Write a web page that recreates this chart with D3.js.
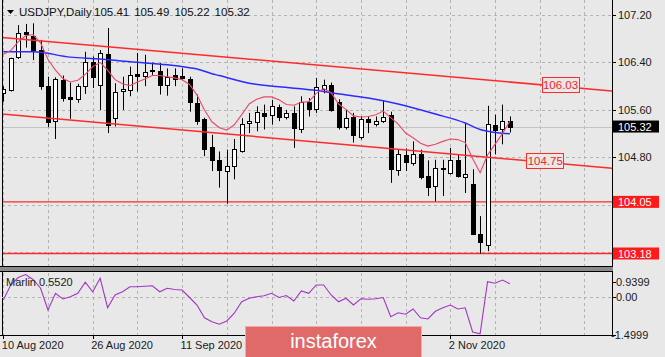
<!DOCTYPE html>
<html><head><meta charset="utf-8">
<script src="https://cdn.jsdelivr.net/npm/d3@7"></script>
<style>
html,body{margin:0;padding:0;background:#e8e8e8;overflow:hidden;}
svg{display:block;font-family:"Liberation Sans",Arial,sans-serif;}
</style></head><body>
<svg id="c" width="665" height="357"></svg>
<script>
// ---------- DATA ----------
const dates = [
 "2020-08-10","2020-08-11","2020-08-12","2020-08-13","2020-08-14","2020-08-17","2020-08-18","2020-08-19","2020-08-20","2020-08-21",
 "2020-08-24","2020-08-25","2020-08-26","2020-08-27","2020-08-28","2020-08-31","2020-09-01","2020-09-02","2020-09-03","2020-09-04",
 "2020-09-07","2020-09-08","2020-09-09","2020-09-10","2020-09-11","2020-09-14","2020-09-15","2020-09-16","2020-09-17","2020-09-18",
 "2020-09-21","2020-09-22","2020-09-23","2020-09-24","2020-09-25","2020-09-28","2020-09-29","2020-09-30","2020-10-01","2020-10-02",
 "2020-10-05","2020-10-06","2020-10-07","2020-10-08","2020-10-09","2020-10-12","2020-10-13","2020-10-14","2020-10-15","2020-10-16",
 "2020-10-19","2020-10-20","2020-10-21","2020-10-22","2020-10-23","2020-10-26","2020-10-27","2020-10-28","2020-10-29","2020-10-30",
 "2020-11-02","2020-11-03","2020-11-04","2020-11-05","2020-11-06","2020-11-09","2020-11-10","2020-11-11","2020-11-12"];
const open  = [105.88,105.94,106.49,106.92,106.85,106.61,106.01,105.42,106.11,105.81,
 105.79,106.01,106.40,106.02,106.54,105.46,105.92,105.94,106.21,106.17,
 106.25,106.26,106.02,106.19,106.17,106.12,105.72,105.45,104.97,104.75,
 104.57,104.66,104.90,105.38,105.39,105.55,105.51,105.65,105.48,105.55,
 105.28,105.73,105.62,105.96,106.02,105.73,105.32,105.48,105.15,105.45,
 105.37,105.42,105.51,104.58,104.84,104.71,104.86,104.48,104.31,104.62,
 104.54,104.75,104.47,104.35,103.51,103.33,105.35,105.28,105.41];
const high  = [106.00,106.48,107.03,107.05,107.06,106.78,106.16,106.15,106.18,106.06,
 106.04,106.58,106.50,106.61,106.98,106.05,106.16,106.33,106.56,106.53,
 106.40,106.39,106.30,106.30,106.30,106.16,105.86,105.47,105.18,104.90,
 104.93,105.11,105.46,105.55,105.66,105.69,105.77,105.69,105.60,105.66,
 105.83,105.80,106.14,106.11,106.06,105.78,105.60,105.55,105.49,105.49,
 105.49,105.76,105.57,104.94,104.95,105.07,104.93,104.75,104.76,104.76,
 104.96,104.85,105.37,104.60,103.81,105.67,105.52,105.69,105.49];
const low   = [105.74,105.91,106.46,106.65,106.44,105.94,105.31,105.11,105.74,105.45,
 105.72,105.87,105.97,105.60,105.21,105.32,105.60,105.83,105.91,106.00,
 106.19,105.86,105.84,106.00,106.11,105.57,105.35,104.82,104.57,104.29,
 104.02,104.43,104.88,105.21,105.24,105.27,105.35,105.41,105.44,104.96,
 105.21,105.49,105.55,105.88,105.57,105.27,105.27,105.05,105.10,105.21,
 105.32,105.38,104.37,104.49,104.57,104.66,104.43,104.15,104.06,104.15,
 104.51,104.46,104.20,103.49,103.18,103.22,104.85,105.02,105.22];
const close = [105.95,106.47,106.90,106.88,106.61,106.01,105.40,106.12,105.80,105.79,
 106.00,106.40,106.16,106.56,105.35,105.91,105.95,106.19,106.17,106.24,
 106.28,106.02,106.16,106.12,106.14,105.73,105.42,104.94,104.75,104.58,
 104.65,104.94,105.37,105.42,105.57,105.49,105.67,105.48,105.54,105.30,
 105.74,105.62,105.98,106.02,105.60,105.31,105.47,105.17,105.44,105.39,
 105.42,105.48,104.60,104.85,104.72,104.86,104.47,104.30,104.62,104.60,
 104.75,104.49,104.52,103.51,103.38,105.37,105.26,105.42,105.32];
// fast moving average (pink), one value per bar
const maFast = [106.54,106.60,106.75,106.85,106.87,106.73,106.45,106.27,106.13,106.07,
 106.10,106.20,106.33,106.40,106.27,106.11,106.04,106.01,106.07,106.12,
 106.18,106.18,106.16,106.14,106.11,106.03,105.85,105.60,105.40,105.30,
 105.26,105.35,105.52,105.70,105.78,105.82,105.82,105.77,105.69,105.68,
 105.73,105.74,105.88,105.96,105.89,105.70,105.61,105.50,105.48,105.49,
 105.52,105.58,105.47,105.36,105.21,105.13,105.04,104.99,105.02,105.07,
 105.11,105.10,105.05,104.78,104.54,104.84,105.02,105.20,105.41];
// slow moving average (blue), read at these bars
const maSlowBars = [0,4,9,13,17,22,25,26,28,29,33,37,42,44,49,53,58,62,64,66,68];
const maSlowVals = [106.58,106.58,106.49,106.46,106.41,106.36,106.31,106.29,106.21,106.18,106.05,105.99,105.93,105.89,105.80,105.70,105.53,105.38,105.27,105.22,105.20];
// Marlin oscillator, one value per bar
const marlin = [-0.10,0.50,0.80,0.92,0.72,0.37,-0.50,0.17,-0.06,0.03,
 0.17,0.61,0.23,0.77,-0.41,0.10,0.23,0.43,0.43,0.45,
 0.47,0.23,0.37,0.32,0.30,0.00,-0.30,-0.81,-0.97,-1.07,
 -0.94,-0.63,-0.17,-0.03,0.03,0.07,0.17,0.00,0.08,-0.14,
 0.26,0.17,0.50,0.50,0.10,-0.17,-0.03,-0.30,-0.05,-0.07,
 -0.05,0.00,-0.77,-0.61,-0.67,-0.46,-0.81,-0.86,-0.55,-0.41,
 -0.30,-0.46,-0.41,-1.38,-1.45,0.63,0.57,0.70,0.552];
// channel lines: [bar, price] anchors
const upperChannel = [[0,106.82],[68,106.07]];
const lowerChannel = [[0,105.53],[68,104.77]];
const channelLabels = [{text:"106.03", bar:74.8, line:"upper"},{text:"104.75", bar:72.75, line:"lower"}];
const levels = [104.05, 103.18];
const bid = 105.32;
const priceTicks = [107.20,106.40,105.60,104.80,104.00,103.20];
const priceTickLabels = ["107.20","106.40","105.60","104.80"];
const indTicks = [0.9399, 0.00, -1.4999];
const indTickLabels = ["0.9399","0.00","-1.4999"];
const tickDates = ["2020-08-10","2020-08-26","2020-09-11","2020-09-29","2020-10-15","2020-11-02"];
const tickLabels = ["10 Aug 2020","26 Aug 2020","11 Sep 2020","29 Sep 2020","15 Oct 2020","2 Nov 2020"];
const symbol = "USDJPY,Daily";
const indName = "Marlin";

// ---------- LAYOUT ----------
const svg = d3.select("#c");
const P = {left:2, right:612, top:0, bottom:266};
const I = {top:273, bottom:335};
const BG = "#e8e8e8";
const WM = {x:245.5, y:326.5, w:176, h:31};
const x = d3.scaleLinear().domain([0,68]).range([3.3, 3.3+7.45*68]);
const y = d3.scaleLinear().domain([103.18,107.20]).range([253.5,15]);
const yi = d3.scaleLinear().domain([-1.4999,0.9399]).range([I.bottom, I.top+1]);
const barMax = x.invert(P.right);
const crisp = v => Math.round(v)+0.5;

svg.append("rect").attr("width",665).attr("height",357).attr("fill",BG);

const defs = svg.append("defs");
defs.append("clipPath").attr("id","cm").append("rect")
  .attr("x",P.left).attr("y",P.top).attr("width",P.right-P.left).attr("height",P.bottom-P.top);
defs.append("clipPath").attr("id","ci").append("rect")
  .attr("x",P.left).attr("y",I.top).attr("width",P.right-P.left).attr("height",I.bottom-I.top);

const main = svg.append("g").attr("clip-path","url(#cm)");
const gridBars = d3.range(0, barMax, 6);

// grid
main.selectAll(".hg").data(priceTicks).join("line")
  .attr("x1",P.left).attr("x2",P.right).attr("y1",d=>crisp(y(d))).attr("y2",d=>crisp(y(d)))
  .attr("stroke","#b4b4b4").attr("stroke-dasharray","3,3");
main.selectAll(".vg").data(gridBars).join("line")
  .attr("x1",d=>crisp(x(d))).attr("x2",d=>crisp(x(d))).attr("y1",P.top).attr("y2",P.bottom)
  .attr("stroke","#b4b4b4").attr("stroke-dasharray","3,3");
// bid line
main.append("line").attr("x1",P.left).attr("x2",P.right)
  .attr("y1",crisp(y(bid))).attr("y2",crisp(y(bid))).attr("stroke","#c4c4c4");
// horizontal levels
main.selectAll(".lv").data(levels).join("line")
  .attr("x1",P.left).attr("x2",P.right).attr("y1",d=>y(d)).attr("y2",d=>y(d))
  .attr("stroke","#ff2a2a").attr("stroke-width",1.4);

// candles
const cg = main.append("g");
dates.forEach((d,i)=>{
  const cx = crisp(x(i));
  cg.append("line").attr("x1",cx).attr("x2",cx).attr("y1",y(high[i])).attr("y2",y(low[i]))
    .attr("stroke","#000").attr("stroke-width",1);
  const t = crisp(y(Math.max(open[i],close[i]))), b = crisp(y(Math.min(open[i],close[i])));
  cg.append("rect").attr("x",cx-2).attr("y",t).attr("width",4).attr("height",Math.max(0.01,b-t))
    .attr("fill", close[i]>=open[i] ? "#ffffff" : "#000000").attr("stroke","#000").attr("stroke-width",1);
});

// channel lines (extended across plot)
function chanPrice(a, bar){ const [p0,p1]=a; return p0[1] + (p1[1]-p0[1])*(bar-p0[0])/(p1[0]-p0[0]); }
[upperChannel, lowerChannel].forEach(a=>{
  const b0 = x.invert(P.left), b1 = barMax;
  main.append("line").attr("x1",x(b0)).attr("x2",x(b1))
    .attr("y1",y(chanPrice(a,b0))).attr("y2",y(chanPrice(a,b1)))
    .attr("stroke","#ff2a2a").attr("stroke-width",1.5);
});

// moving averages
main.append("path").datum(maSlowBars.map((b,k)=>[b,maSlowVals[k]]))
  .attr("d",d3.line().x(d=>x(d[0])).y(d=>y(d[1])).curve(d3.curveMonotoneX))
  .attr("fill","none").attr("stroke","#2b2bff").attr("stroke-width",1.5);
main.append("path").datum(maFast.map((v,i)=>[i,v]))
  .attr("d",d3.line().x(d=>x(d[0])).y(d=>y(d[1]))).attr("fill","none").attr("stroke","#eb4868").attr("stroke-width",1.1);

// channel labels
channelLabels.forEach(l=>{
  const a = l.line==="upper" ? upperChannel : lowerChannel;
  const cx = x(l.bar), cy = y(chanPrice(a,l.bar)) - 2;
  main.append("rect").attr("x",Math.round(cx-19)+0.5).attr("y",Math.round(cy-7.5)+0.5).attr("width",37).attr("height",15)
    .attr("fill",BG).attr("stroke","#ff2a2a").attr("stroke-width",1);
  main.append("text").attr("x",cx).attr("y",cy+0.5).attr("text-anchor","middle").attr("dominant-baseline","central")
    .attr("font-size",11.5).attr("fill","#ff2020").text(l.text);
});

// borders
svg.append("line").attr("x1",2.5).attr("x2",2.5).attr("y1",0).attr("y2",I.bottom).attr("stroke","#000");
svg.append("line").attr("x1",612.5).attr("x2",612.5).attr("y1",0).attr("y2",I.bottom).attr("stroke","#000");

// right axis
const ax = svg.append("g").attr("font-size",11).attr("fill","#1a1a1a");
priceTickLabels.forEach(t=>{
  const v = +t;
  ax.append("line").attr("x1",612).attr("x2",616).attr("y1",crisp(y(v))).attr("y2",crisp(y(v))).attr("stroke","#000");
  ax.append("text").attr("x",618).attr("y",y(v)).attr("dominant-baseline","central").text(t);
});
function priceBox(v, fill){
  ax.append("rect").attr("x",613).attr("y",y(v)-6).attr("width",46).attr("height",12).attr("fill",fill);
  ax.append("text").attr("x",618).attr("y",y(v)+0.5).attr("dominant-baseline","central").attr("fill","#ffffff").text(d3.format(".2f")(v));
}
priceBox(bid, "#000000");
levels.forEach(v=>priceBox(v, "#ff1a1a"));

// title
const last = dates.length-1;
svg.append("path").attr("d","M7,10 L14,10 L10.5,14 Z").attr("fill","#000");
const tt = svg.append("g").attr("font-size",11.5).attr("fill","#111");
tt.append("text").attr("x",19).attr("y",16).text(symbol);
[open[last],high[last],low[last],close[last]].forEach((v,k)=>{
  tt.append("text").attr("x",94+k*40.2).attr("y",16).text(d3.format(".2f")(v));
});

// separator
svg.append("rect").attr("x",0).attr("y",266).attr("width",613).attr("height",1).attr("fill","#000");
svg.append("rect").attr("x",0).attr("y",267).attr("width",613).attr("height",4).attr("fill","#8a8a8a");
svg.append("rect").attr("x",0).attr("y",271).attr("width",613).attr("height",1).attr("fill","#000");

// indicator panel
const ig = svg.append("g").attr("clip-path","url(#ci)");
ig.append("line").attr("x1",P.left).attr("x2",P.right).attr("y1",crisp(yi(0))).attr("y2",crisp(yi(0)))
  .attr("stroke","#b4b4b4").attr("stroke-dasharray","3,3");
ig.selectAll(".ivg").data(gridBars).join("line")
  .attr("x1",d=>crisp(x(d))).attr("x2",d=>crisp(x(d))).attr("y1",I.top).attr("y2",I.bottom)
  .attr("stroke","#b4b4b4").attr("stroke-dasharray","3,3");
ig.append("path").datum(marlin).attr("d",d3.line().x((d,i)=>x(i)).y(d=>yi(d)))
  .attr("fill","none").attr("stroke","#a336c4").attr("stroke-width",1.1);
svg.append("text").attr("x",6).attr("y",282).attr("dominant-baseline","central").attr("font-size",11).attr("fill","#1a1a1a")
  .text(indName+" "+d3.format(".4f")(marlin[last]));
indTicks.forEach((v,k)=>{
  const yy = Math.min(Math.max(yi(v), I.top+8.5), I.bottom+2);
  svg.append("line").attr("x1",612).attr("x2",616).attr("y1",crisp(yy)).attr("y2",crisp(yy)).attr("stroke","#000");
  svg.append("text").attr("x", v<0 ? 611 : 616).attr("y",yy).attr("dominant-baseline","central")
    .attr("font-size",11).attr("fill","#1a1a1a").text(indTickLabels[k]);
});
svg.append("line").attr("x1",0).attr("x2",613).attr("y1",I.bottom+0.5).attr("y2",I.bottom+0.5).attr("stroke","#000");

// time axis (labels hidden under the watermark box, as in the reference, are not drawn)
tickDates.forEach((d,k)=>{
  const i = dates.indexOf(d);
  svg.append("line").attr("x1",crisp(x(i))).attr("x2",crisp(x(i))).attr("y1",I.bottom).attr("y2",I.bottom+4).attr("stroke","#000");
  const tx = x(i)-1.5;
  const hidden = tx > WM.x && tx < WM.x + WM.w;
  if (!hidden) {
    svg.append("text").attr("x",tx).attr("y",345).attr("dominant-baseline","central")
      .attr("font-size",11).attr("fill","#1a1a1a").text(tickLabels[k]);
  }
});

// watermark
svg.append("rect").attr("x",WM.x).attr("y",WM.y).attr("width",WM.w).attr("height",WM.h)
  .attr("fill","#e06a6a").attr("stroke","#f1a9a9").attr("stroke-width",1);
svg.append("text").attr("x",WM.x+WM.w/2).attr("y",348).attr("text-anchor","middle")
  .attr("font-size",20).attr("fill","#ffffff").text("instaforex");
</script>
</body></html>
